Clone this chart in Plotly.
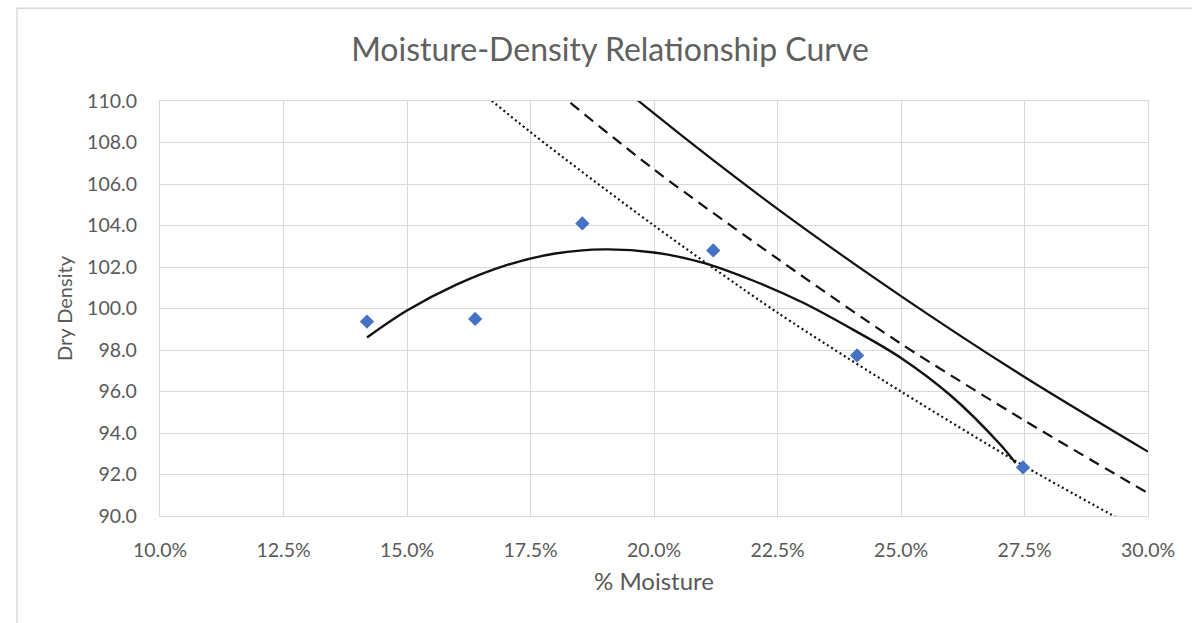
import plotly.graph_objects as go

# Test points (moisture as fraction, dry density in pcf)
moisture = [0.1419, 0.1638, 0.1855, 0.2120, 0.2411, 0.2747]
dry_density = [99.37, 99.50, 104.10, 102.80, 97.74, 92.34]

fit_moisture = [0.1419, 0.15, 0.16, 0.17, 0.18, 0.19, 0.20, 0.21,
                0.22, 0.23, 0.24, 0.25, 0.26, 0.27, 0.2732]
fit_density = [98.60, 99.90, 101.15, 102.08, 102.65, 102.85, 102.70, 102.20,
               101.35, 100.30, 99.02, 97.62, 95.82, 93.47, 92.55]

# Zero-air-voids lines at 2.5% steps
zav_moisture = [0.150, 0.175, 0.200, 0.225, 0.250, 0.275, 0.300]
zav_dotted = [113.4, 108.5, 104.0, 99.8, 96.0, 92.4, 89.1]
zav_dashed = [116.7, 111.5, 106.7, 102.4, 98.3, 94.6, 91.1]
zav_solid = [119.9, 114.4, 109.4, 104.8, 100.6, 96.7, 93.1]

x_ticks = [0.100, 0.125, 0.150, 0.175, 0.200, 0.225, 0.250, 0.275, 0.300]
y_ticks = [90, 92, 94, 96, 98, 100, 102, 104, 106, 108, 110]

FONT = "Lato"
GREY = "#595959"
GRID = "#d9d9d9"

fig = go.Figure()

# ZAV lines
for ys, dash in [(zav_dotted, "2px,3px"), (zav_dashed, "11px,7px"), (zav_solid, "solid")]:
    fig.add_trace(go.Scatter(
        x=zav_moisture, y=ys, mode="lines",
        line=dict(color="#111111", width=2.2, dash=dash, shape="spline", smoothing=0.8),
        hoverinfo="skip",
    ))

# trendline
fig.add_trace(go.Scatter(
    x=fit_moisture, y=fit_density, mode="lines",
    line=dict(color="#111111", width=2.4, shape="spline", smoothing=1.0),
    hoverinfo="skip",
))

# data points
fig.add_trace(go.Scatter(
    x=moisture, y=dry_density, mode="markers",
    marker=dict(symbol="diamond", size=11, color="#4472C4"),
    name="Dry Density",
))

fig.update_xaxes(
    range=[0.10, 0.30],
    tickvals=x_ticks,
    tickformat=".1%",
    showgrid=True, gridcolor=GRID, gridwidth=1.3,
    showline=True, linecolor=GRID, linewidth=1.3, mirror=True,
    zeroline=False,
    ticks="", ticklabelstandoff=16,
    tickfont=dict(family=FONT, size=19.5, color=GREY),
    title=dict(text="% Moisture", standoff=13,
               font=dict(family=FONT, size=24, color=GREY)),
)
fig.update_yaxes(
    range=[90, 110],
    tickvals=y_ticks,
    tickformat=".1f",
    showgrid=True, gridcolor=GRID, gridwidth=1.3,
    showline=True, linecolor=GRID, linewidth=1.3, mirror=True,
    zeroline=False,
    ticks="", ticklabelstandoff=18,
    tickfont=dict(family=FONT, size=19.5, color=GREY),
    title=dict(text="Dry Density", standoff=9,
               font=dict(family=FONT, size=20, color=GREY)),
)

# chart area border
fig.add_shape(type="rect", xref="paper", yref="paper",
              x0=-0.1447, x1=1.07, y0=-0.3, y1=1.2235,
              line=dict(color=GRID, width=1.5), layer="below")

fig.update_layout(
    width=1192, height=623,
    showlegend=False,
    plot_bgcolor="white", paper_bgcolor="white",
    margin=dict(l=160, r=44, t=101, b=107),
    title=dict(
        text="Moisture-Density Relationship Curve",
        x=610 / 1192, xanchor="center",
        y=1 - 50 / 623, yanchor="middle",
        font=dict(family=FONT, size=32, color="#606060"),
    ),
)

fig.write_html("out.html", config={"displayModeBar": False},
               post_script="document.body.style.margin='0';")
